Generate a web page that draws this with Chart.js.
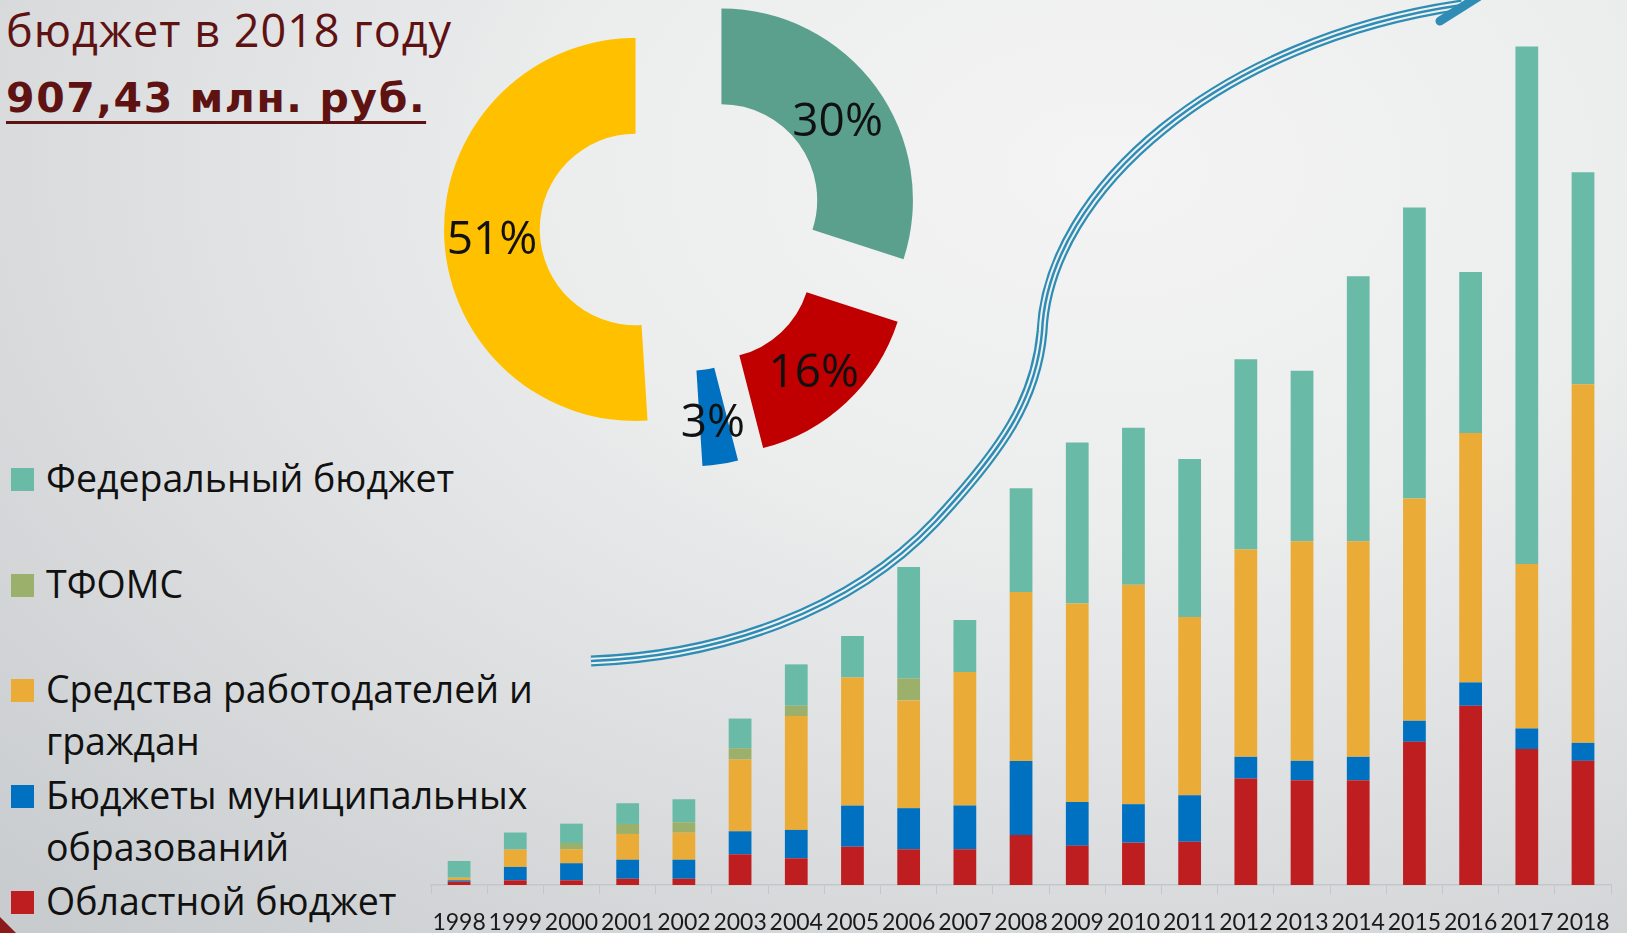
<!DOCTYPE html>
<html lang="ru">
<head>
<meta charset="utf-8">
<title>Бюджет в 2018 году</title>
<script src="https://cdn.jsdelivr.net/npm/chart.js@4.4.1/dist/chart.umd.min.js"></script>
<style>
  html, body { margin: 0; padding: 0; }
  body {
    width: 1627px; height: 933px; overflow: hidden; position: relative;
    font-family: "Open Sans", sans-serif;
    background: radial-gradient(ellipse 95% 110% at 68% 18%, #f4f4f4 0%, #eceded 35%, #dcdee0 65%, #c9ccce 100%);
  }
  #barChart { position: absolute; left: 0; top: 0; }
  #pieChart { position: absolute; left: 443px; top: -12px; }
  .title1 { position: absolute; left: 6px; top: 7px; font-size: 45px; letter-spacing: 1px; line-height: 1; color: #5e1212; white-space: nowrap; }
  .title2 { position: absolute; left: 6px; top: 78px; font-family: "DejaVu Sans", sans-serif; font-size: 41px; letter-spacing: 1.6px; line-height: 1; font-weight: 700; color: #5e1212; text-decoration: underline; text-decoration-thickness: 3px; text-underline-offset: 9px; white-space: nowrap; }
  .legend-item { position: absolute; left: 11px; width: 560px; }
  .legend-item .sw { position: absolute; left: 0; top: 0; width: 23px; height: 23px; }
  .legend-item .txt { position: absolute; left: 35px; top: -16px; width: 520px; font-size: 37.5px; line-height: 52px; color: #111; }
  .corner { position: absolute; left: 0; bottom: 0; width: 16px; height: 16px; background: #8b1a1a; clip-path: polygon(0 0, 100% 100%, 0 100%); }
  svg.arrow { position: absolute; left: 0; top: 0; pointer-events: none; }
</style>
</head>
<body>
<div class="title1">бюджет в 2018 году</div>
<div class="title2">907,43 млн. руб.</div>
<div id="legend"></div>
<svg class="arrow" width="1627" height="933" viewBox="0 0 1627 933">
  <defs>
    <path id="arrowPath" d="M591 661 C 720 656, 850 612, 935 522 C 1002 450, 1036 400, 1042 332 C 1048 190, 1220 40, 1462 5"/>
  </defs>
  <g fill="none">
    <use href="#arrowPath" stroke="#2f8db5" stroke-width="11"/>
    <use href="#arrowPath" stroke="#eff0f0" stroke-width="6.5"/>
    <use href="#arrowPath" stroke="#2f8db5" stroke-width="2.5"/>
  </g>
  <path d="M1440 21 L1478 -3" stroke="#2f8db5" stroke-width="9" stroke-linecap="round"/>
</svg>
<canvas id="barChart" width="1627" height="951"></canvas>
<canvas id="pieChart" width="480" height="480"></canvas>
<div class="corner"></div>

<script>
// years on the x axis
const years = ['1998','1999','2000','2001','2002','2003','2004','2005','2006','2007','2008',
               '2009','2010','2011','2012','2013','2014','2015','2016','2017','2018'];

// funding sources, mln rub (bottom to top)
const oblast    = [4.2, 6.0, 6.0, 8.0, 8.0, 39.1, 34.0, 48.8, 45.5, 45.5, 63.7, 50.1, 53.9, 55.2, 135.5, 133.5, 133.5, 182.3, 228.2, 173.0, 158.1];
const municipal = [1.8, 17.0, 21.7, 24.2, 24.2, 29.3, 36.1, 52.3, 52.3, 55.6, 94.3, 55.7, 49.0, 59.2, 27.7, 24.6, 29.7, 26.8, 29.7, 26.3, 22.9];
const employers = [3.3, 22.1, 17.8, 32.8, 34.4, 91.3, 145.0, 163.2, 137.2, 170.1, 214.9, 252.7, 279.3, 226.9, 264.0, 279.7, 274.6, 283.0, 317.5, 209.5, 456.5];
const tfoms     = [0, 0, 8.0, 12.7, 13.3, 14.5, 13.1, 0, 28.0, 0, 0, 0, 0, 0, 0, 0, 0, 0, 0, 0, 0];
const federal   = [21.3, 21.7, 24.6, 26.4, 29.3, 37.7, 52.7, 52.8, 141.8, 66.2, 132.2, 205.0, 199.8, 201.1, 242.1, 217.0, 337.3, 370.4, 205.1, 658.7, 269.9];

const seriesNames  = ['Областной бюджет', 'Бюджеты муниципальных образований', 'Средства работодателей и граждан', 'ТФОМС', 'Федеральный бюджет'];
const seriesData   = [oblast, municipal, employers, tfoms, federal];
const seriesColors = ['#be1e1f', '#0070c0', '#eaab37', '#9bb06b', '#69bba8'];

// structure of the 2018 budget, %
const pieLabels = ['Федеральный бюджет', 'Областной бюджет', 'Бюджеты муниципальных образований', 'Средства работодателей и граждан'];
const pieValues = [30, 16, 3, 51];
const pieColors = ['#5ba08c', '#c00000', '#0070c0', '#ffc000'];

// legend (top = last series)
const legendEl = document.getElementById('legend');
for (let k = seriesNames.length - 1, row = 0; k >= 0; k--, row++) {
    const item = document.createElement('div');
    item.className = 'legend-item';
    item.style.top = (468 + row * 105.7) + 'px';
    item.innerHTML = '<div class="sw" style="background:' + seriesColors[k] + '"></div><div class="txt">' + seriesNames[k] + '</div>';
    legendEl.appendChild(item);
}

new Chart(document.getElementById('barChart'), {
    type: 'bar',
    data: {
        labels: years,
        datasets: seriesNames.map((name, k) => ({
            label: name,
            data: seriesData[k],
            backgroundColor: seriesColors[k],
            borderWidth: 0,
            categoryPercentage: 1,
            barPercentage: 0.405
        }))
    },
    options: {
        responsive: false,
        animation: false,
        layout: { padding: { left: 431, right: 13, top: 21, bottom: 0 } },
        plugins: { legend: { display: false }, tooltip: { enabled: false } },
        scales: {
            x: {
                stacked: true,
                grid: { drawOnChartArea: false, drawTicks: true, tickLength: 9, color: '#c4c7c9', offset: true },
                border: { display: true, color: '#c4c7c9', width: 1.5 },
                ticks: { color: '#1a1a1a', padding: 17, maxRotation: 0, autoSkip: false,
                         font: { family: 'Lato', size: 23, lineHeight: 1 } }
            },
            y: { stacked: true, display: false, min: 0, max: 1100 }
        }
    }
});

// exploded doughnut: every slice is moved out along its own bisector
const explode = {
    id: 'explode',
    beforeDatasetDraw(chart, args, opts) {
        const ctx = chart.ctx;
        args.meta.data.forEach(arc => {
            const mid = (arc.startAngle + arc.endAngle) / 2;
            ctx.save();
            ctx.translate(Math.cos(mid) * opts.distance, Math.sin(mid) * opts.distance);
            arc.draw(ctx, chart.chartArea);
            ctx.restore();
        });
        return false;
    },
    afterDatasetsDraw(chart, args, opts) {
        const ctx = chart.ctx;
        const meta = chart.getDatasetMeta(0);
        ctx.save();
        ctx.font = '46px "Open Sans"';
        ctx.fillStyle = '#111';
        ctx.textAlign = 'center';
        ctx.textBaseline = 'middle';
        meta.data.forEach((arc, i) => {
            const mid = (arc.startAngle + arc.endAngle) / 2;
            const r = (arc.innerRadius + arc.outerRadius) / 2 + opts.distance;
            ctx.fillText(pieValues[i] + '%', arc.x + Math.cos(mid) * r, arc.y + Math.sin(mid) * r + 7);
        });
        ctx.restore();
    }
};

new Chart(document.getElementById('pieChart'), {
    type: 'doughnut',
    data: {
        labels: pieLabels,
        datasets: [{ data: pieValues, backgroundColor: pieColors, borderWidth: 0 }]
    },
    options: {
        responsive: false,
        animation: false,
        cutout: '50%',
        layout: { padding: 48.5 },
        plugins: { legend: { display: false }, tooltip: { enabled: false }, explode: { distance: 47.5 } }
    },
    plugins: [explode]
});
</script>
</body>
</html>
